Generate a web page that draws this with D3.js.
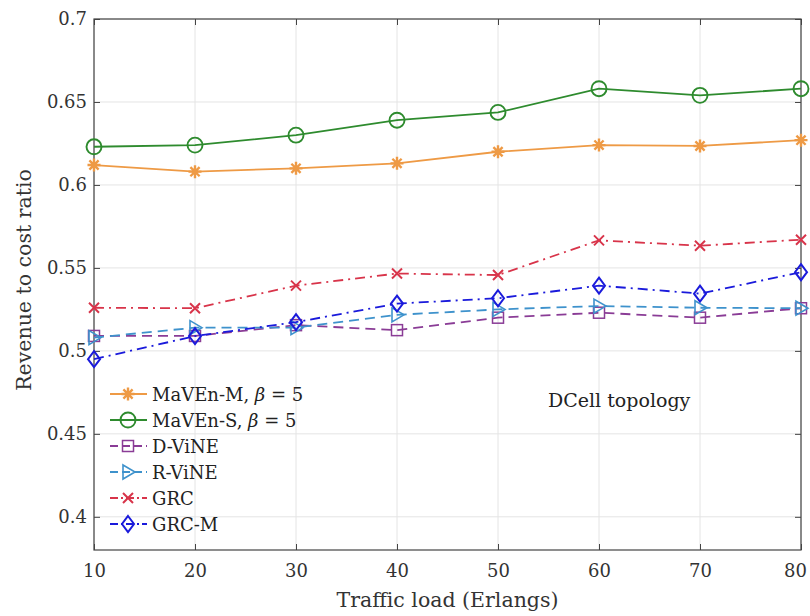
<!DOCTYPE html>
<html><head><meta charset="utf-8">
<script src="https://cdn.jsdelivr.net/npm/d3@7"></script>
<style>body{margin:0;background:#fff}svg{display:block}</style>
</head><body>
<script>
const loads = [10, 20, 30, 40, 50, 60, 70, 80];
const mavenM = [0.612, 0.608, 0.610, 0.613, 0.620, 0.624, 0.6235, 0.627];
const mavenS = [0.623, 0.624, 0.630, 0.639, 0.6437, 0.658, 0.654, 0.658];
const dvine  = [0.509, 0.509, 0.5155, 0.5125, 0.520, 0.523, 0.520, 0.5257];
const rvine  = [0.508, 0.514, 0.514, 0.5217, 0.525, 0.527, 0.526, 0.5257];
const grc    = [0.526, 0.5257, 0.5393, 0.5466, 0.5457, 0.5666, 0.5634, 0.567];
const grcM   = [0.495, 0.5089, 0.5173, 0.5285, 0.5317, 0.5393, 0.5345, 0.5474];
const xTicks = [10, 20, 30, 40, 50, 60, 70, 80];
const yTicks = [0.4, 0.45, 0.5, 0.55, 0.6, 0.65, 0.7];
const seriesNames = ["MaVEn-M, β = 5", "MaVEn-S, β = 5", "D-ViNE", "R-ViNE", "GRC", "GRC-M"];

const W = 810, H = 616;
const m = {l: 94, r: 9, t: 19, b: 66};
const font = "'DejaVu Serif', serif";
const svg = d3.select("body").append("svg").attr("width", W).attr("height", H);
const x = d3.scaleLinear().domain([10, 80]).range([m.l, W - m.r]);
const y = d3.scaleLinear().domain([0.38, 0.7]).range([H - m.b, m.t]);

// grid
svg.append("g").selectAll("line").data(xTicks).join("line")
  .attr("x1", d => x(d)).attr("x2", d => x(d)).attr("y1", y(0.38)).attr("y2", y(0.7))
  .attr("stroke", "#e4e4e4").attr("stroke-width", 1);
svg.append("g").selectAll("line").data(yTicks).join("line")
  .attr("y1", d => y(d)).attr("y2", d => y(d)).attr("x1", x(10)).attr("x2", x(80))
  .attr("stroke", "#e4e4e4").attr("stroke-width", 1);

// axes
const axStyle = g => {
  g.select(".domain").remove();
  g.selectAll(".tick line").attr("stroke", "#444");
  g.selectAll(".tick text").attr("font-family", font).attr("font-size", 18).attr("fill", "#333");
};
const xb = svg.append("g").attr("transform", `translate(0,${y(0.38)})`)
  .call(d3.axisBottom(x).tickValues(xTicks).tickFormat(d3.format("d")).tickSize(-6).tickPadding(14))
  .call(axStyle);
xb.selectAll(".tick text").filter(d => d === 80).attr("dx", -6);
svg.append("g").attr("transform", `translate(0,${y(0.7)})`)
  .call(d3.axisTop(x).tickValues(xTicks).tickFormat("").tickSize(-6)).call(axStyle);
svg.append("g").attr("transform", `translate(${x(10)},0)`)
  .call(d3.axisLeft(y).tickValues(yTicks).tickFormat(d => String(+d.toFixed(2))).tickSize(-6).tickPadding(7))
  .call(axStyle);
svg.append("g").attr("transform", `translate(${x(80)},0)`)
  .call(d3.axisRight(y).tickValues(yTicks).tickFormat("").tickSize(-6)).call(axStyle);
svg.append("rect").attr("x", x(10)).attr("y", y(0.7)).attr("width", x(80) - x(10)).attr("height", y(0.38) - y(0.7))
  .attr("fill", "none").attr("stroke", "#444").attr("stroke-width", 1.2);

// labels
svg.append("text").attr("x", (x(10) + x(80)) / 2).attr("y", 607).attr("text-anchor", "middle")
  .attr("font-family", font).attr("font-size", 20.5).attr("fill", "#333").text("Traffic load (Erlangs)");
svg.append("text").attr("transform", `translate(31,280) rotate(-90)`).attr("text-anchor", "middle")
  .attr("font-family", font).attr("font-size", 20.5).attr("fill", "#333").text("Revenue to cost ratio");
svg.append("text").attr("x", 548).attr("y", 407).attr("font-family", font).attr("font-size", 19).attr("fill", "#222").text("DCell topology");

// markers
function drawMarker(g, type, color) {
  if (type === "star") {
    const r = 6.5;
    const p = [];
    for (let i = 0; i < 4; i++) {
      const a = i * Math.PI / 4;
      p.push(`M${-r*Math.cos(a)},${-r*Math.sin(a)}L${r*Math.cos(a)},${r*Math.sin(a)}`);
    }
    g.append("path").attr("d", p.join("")).attr("stroke", color).attr("stroke-width", 2.4).attr("fill", "none");
  } else if (type === "circle") {
    g.append("circle").attr("r", 7.5).attr("fill", "none").attr("stroke", color).attr("stroke-width", 1.9);
  } else if (type === "square") {
    g.append("rect").attr("x", -5.5).attr("y", -5.5).attr("width", 11).attr("height", 11).attr("fill", "none").attr("stroke", color).attr("stroke-width", 1.5);
  } else if (type === "triangle") {
    g.append("path").attr("d", "M-5,-7L7,0L-5,7Z").attr("fill", "none").attr("stroke", color).attr("stroke-width", 1.6);
  } else if (type === "x") {
    g.append("path").attr("d", "M-5,-5L5,5M-5,5L5,-5").attr("stroke", color).attr("stroke-width", 2);
  } else if (type === "diamond") {
    g.append("path").attr("d", "M0,-8L6,0L0,8L-6,0Z").attr("fill", "none").attr("stroke", color).attr("stroke-width", 2);
  }
}

const series = [
  {name: seriesNames[0], vals: mavenM, color: "#EE9A45", dash: null, marker: "star"},
  {name: seriesNames[1], vals: mavenS, color: "#2E8B2E", dash: null, marker: "circle"},
  {name: seriesNames[2], vals: dvine, color: "#8A3C96", dash: "10,6", marker: "square"},
  {name: seriesNames[3], vals: rvine, color: "#3E92CC", dash: "10,6", marker: "triangle"},
  {name: seriesNames[4], vals: grc, color: "#D8344A", dash: "10,5,2,5", marker: "x"},
  {name: seriesNames[5], vals: grcM, color: "#1A1ADB", dash: "10,5,2,5", marker: "diamond"}
];

const line = d3.line().x(d => x(d[0])).y(d => y(d[1]));
series.forEach(s => {
  const pts = loads.map((l, i) => [l, s.vals[i]]);
  svg.append("path").datum(pts).attr("d", line).attr("fill", "none")
    .attr("stroke", s.color).attr("stroke-width", 1.8).attr("stroke-dasharray", s.dash);
  pts.forEach(p => {
    const g = svg.append("g").attr("transform", `translate(${x(p[0])},${y(p[1])})`);
    drawMarker(g, s.marker, s.color);
  });
});

// legend
const lg = svg.append("g");
series.forEach((s, i) => {
  const yy = 394 + i * 26;
  lg.append("line").attr("x1", 110).attr("x2", 147).attr("y1", yy).attr("y2", yy)
    .attr("stroke", s.color).attr("stroke-width", 1.8).attr("stroke-dasharray", s.dash ? (s.dash === "10,6" ? "8,4" : "8,3,2,3") : null);
  drawMarker(lg.append("g").attr("transform", `translate(128,${yy})`), s.marker, s.color);
  const t = lg.append("text").attr("x", 152).attr("y", yy + 6.5).attr("font-family", font).attr("font-size", 18).attr("fill", "#222");
  if (s.name.includes("β")) {
    const parts = s.name.split("β");
    t.append("tspan").text(parts[0]);
    t.append("tspan").attr("font-style", "italic").text("β");
    t.append("tspan").text(parts[1]);
  } else t.text(s.name);
});
</script>
</body></html>
